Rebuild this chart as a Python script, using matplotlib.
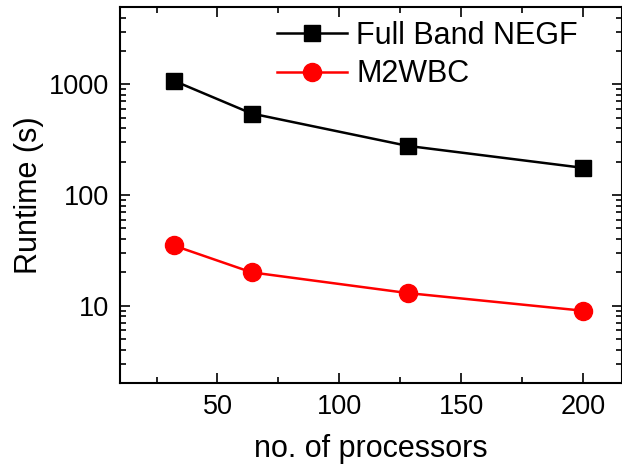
import matplotlib
matplotlib.use('Agg')
import matplotlib.pyplot as plt
from matplotlib.ticker import MultipleLocator, LogLocator, NullFormatter

plt.rcParams['font.family'] = ['Liberation Sans', 'DejaVu Sans']

procs = [32, 64, 128, 200]
negf = [1080, 545, 278, 176]
m2wbc = [35, 20, 13, 9]

fig = plt.figure(figsize=(6.22, 4.66), dpi=100)
ax = fig.add_axes([120/622, 1-383/466, 502/622, 376/466])

ax.plot(procs, negf, '-s', color='black', lw=1.8, ms=11.5, label='Full Band NEGF')
ax.plot(procs, m2wbc, '-o', color='red', lw=1.8, ms=13, label='M2WBC')

ax.set_yscale('log')
ax.set_xlim(10, 216)
ax.set_ylim(2, 5000)
ax.xaxis.set_major_locator(MultipleLocator(50))
ax.xaxis.set_minor_locator(MultipleLocator(25))
ax.yaxis.set_minor_locator(LogLocator(base=10, subs=range(2, 10), numticks=20))
ax.yaxis.set_minor_formatter(NullFormatter())
ax.set_yticks([10, 100, 1000])
ax.set_yticklabels(['10', '100', '1000'])

ax.tick_params(which='both', direction='in', top=True, right=True, labelsize=19.5, width=1.2)
ax.tick_params(which='major', length=7, pad=8)
ax.tick_params(which='minor', length=4)
for s in ax.spines.values():
    s.set_linewidth(1.5)

ax.set_xlabel('no. of processors', fontsize=22, labelpad=10)
ax.set_ylabel('Runtime (s)', fontsize=22, labelpad=3)

ax.legend(loc='upper left', bbox_to_anchor=(0.285, 1.0), frameon=False, fontsize=22,
          handlelength=2.3, handletextpad=0.3, labelspacing=0.28, borderaxespad=0.05)

fig.savefig('out.png', dpi=100)
